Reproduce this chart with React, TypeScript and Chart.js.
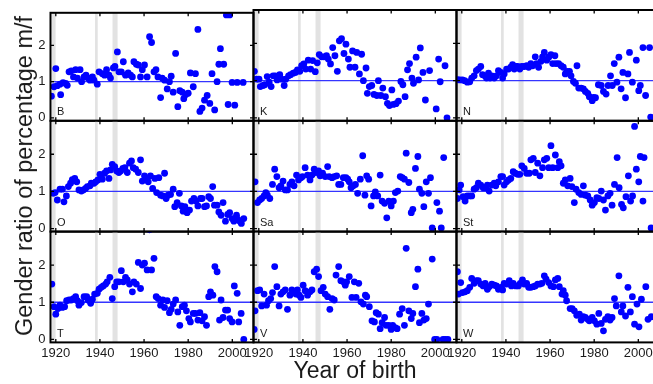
import React, { useEffect, useRef } from "react";
import { Chart, registerables } from "chart.js";

Chart.register(...registerables);

// ---------- axes / reference values ----------
const X_MIN = 1917.6;
const X_MAX = 2009.6;
const Y_MIN = -0.08;
const Y_MAX = 2.9;
const X_TICKS = [1920, 1940, 1960, 1980, 2000];
const Y_TICKS = [0, 1, 2];
const REFERENCE_RATIO = 1;
const BAND_START = [1918.3, 1937.8, 1945.7];
const BAND_END = [1919.9, 1939.0, 1948.0];
const PANEL_NAMES = ["B", "K", "N", "O", "Sa", "St", "T", "V", "W"];
const X_TITLE = "Year of birth";
const Y_TITLE = "Gender ratio of percentage m/f";

// ---------- data (year of birth, gender ratio) ----------
const B_YEARS = [
  1918.0, 1919.2, 1920.0, 1920.7, 1921.9, 1922.2, 1923.3, 1924.5, 1925.2, 1926.0,
  1927.0, 1928.0, 1929.0, 1929.8, 1931.0, 1931.7, 1932.8, 1933.7, 1934.6, 1935.5,
  1936.6, 1937.3, 1938.8, 1939.6, 1941.1, 1942.1, 1943.0, 1944.1, 1944.8, 1946.1,
  1946.8, 1947.9, 1948.6, 1949.7, 1950.6, 1951.6, 1952.8, 1953.9, 1954.7, 1955.4,
  1956.5, 1957.4, 1958.4, 1959.2, 1960.2, 1961.4, 1962.5, 1963.4, 1964.5, 1965.4,
  1966.3, 1967.5, 1968.2, 1969.3, 1970.5, 1971.5, 1972.3, 1973.2, 1974.3, 1975.3,
  1976.2, 1977.3, 1978.0, 1978.8, 1980.0, 1981.0, 1982.3, 1983.3, 1984.4, 1985.3,
  1986.3, 1987.4, 1988.6, 1989.8, 1990.8, 1992.0, 1993.1, 1993.9, 1994.6, 1996.1,
  1997.3, 1998.1, 1998.8, 1999.9, 2001.1, 2002.2, 2004.9,
];
const B_VALUES = [
  0.60, 0.86, 1.36, 0.89, 0.93, 0.64, 0.97, 0.95, 0.90, 1.27,
  1.30, 1.13, 1.33, 1.10, 1.33, 1.00, 1.13, 1.18, 1.10, 1.04,
  1.13, 1.04, 0.93, 1.27, 1.22, 1.18, 1.33, 1.18, 1.10, 1.38,
  1.42, 1.82, 1.27, 1.27, 1.55, 1.18, 1.24, 1.18, 1.13, 1.55,
  1.48, 1.46, 1.13, 1.33, 1.46, 1.13, 2.24, 2.08, 1.27, 1.33,
  1.13, 0.56, 1.10, 1.04, 0.80, 1.00, 1.15, 0.71, 1.78, 0.31,
  0.75, 0.71, 0.53, 0.64, 0.68, 1.24, 0.86, 1.22, 2.44, 0.18,
  0.27, 0.49, 0.62, 0.40, 1.22, 0.22, 1.00, 1.48, 1.91, 1.48,
  2.84, 0.37, 2.84, 0.98, 0.35, 0.98, 0.98,
];

const K_YEARS = [
  1918.0, 1918.9, 1920.1, 1920.7, 1921.9, 1922.7, 1923.8, 1924.7, 1925.6, 1926.5,
  1927.5, 1928.3, 1929.5, 1930.3, 1931.5, 1932.2, 1933.5, 1934.4, 1935.6, 1936.6,
  1937.5, 1938.6, 1939.4, 1940.4, 1941.3, 1942.4, 1943.5, 1944.4, 1945.6, 1946.5,
  1947.4, 1948.5, 1949.5, 1950.7, 1951.5, 1952.5, 1953.5, 1954.5, 1955.6, 1956.5,
  1957.5, 1958.6, 1959.5, 1960.6, 1961.3, 1962.5, 1963.6, 1964.4, 1965.6, 1966.6,
  1967.4, 1968.6, 1969.2, 1970.1, 1971.2, 1972.2, 1973.5, 1974.2, 1975.3, 1976.2,
  1977.4, 1978.3, 1979.2, 1980.3, 1981.0, 1982.2, 1983.3, 1984.4, 1985.3, 1986.3,
  1987.4, 1988.3, 1989.4, 1990.1, 1991.3, 1992.4, 1993.2, 1994.4, 1995.5, 1997.4,
  2000.4, 2001.5, 2002.2, 2004.4, 2005.3,
];
const K_VALUES = [
  1.25, 1.04, 1.04, 0.84, 0.87, 0.89, 1.11, 0.96, 0.84, 1.13,
  1.13, 1.02, 1.16, 1.04, 0.87, 1.04, 1.13, 1.16, 1.20, 1.22,
  1.29, 1.25, 1.40, 1.45, 1.31, 1.55, 1.31, 1.54, 1.24, 1.48,
  1.70, 1.64, 1.64, 1.67, 1.58, 1.45, 1.89, 1.67, 1.25, 2.07,
  2.13, 1.73, 1.98, 1.58, 1.36, 1.80, 1.36, 1.76, 1.18, 1.71,
  1.00, 1.34, 0.66, 0.84, 0.87, 0.63, 0.60, 1.00, 0.60, 0.80,
  0.57, 0.39, 0.33, 0.75, 0.36, 0.38, 0.45, 0.98, 0.89, 0.57,
  1.29, 1.46, 1.07, 0.93, 1.63, 1.02, 1.88, 1.22, 0.48, 1.27,
  0.24, 1.58, 0.97, 1.40, 0.00,
];

const N_YEARS = [
  1918.0, 1919.1, 1920.3, 1921.3, 1922.5, 1923.6, 1924.5, 1925.6, 1926.6, 1927.5,
  1928.6, 1929.4, 1930.4, 1931.2, 1932.1, 1932.8, 1933.6, 1934.7, 1935.7, 1936.6,
  1937.7, 1938.5, 1939.2, 1940.3, 1941.2, 1942.2, 1943.0, 1943.8, 1944.5, 1945.3,
  1946.3, 1947.2, 1948.3, 1949.4, 1950.3, 1951.3, 1952.1, 1953.3, 1953.9, 1954.8,
  1955.9, 1956.6, 1957.4, 1958.5, 1959.4, 1960.4, 1961.2, 1962.2, 1962.7, 1963.9,
  1965.0, 1966.0, 1966.9, 1967.7, 1968.8, 1969.5, 1970.6, 1971.5, 1972.2, 1973.0,
  1974.1, 1975.1, 1976.0, 1977.1, 1977.8, 1979.1, 1979.7, 1980.6, 1981.9, 1983.2,
  1984.2, 1985.4, 1986.3, 1987.4, 1988.2, 1989.1, 1990.3, 1991.2, 1992.2, 1993.0,
  1994.2, 1995.3, 1996.0, 1997.3, 1999.1, 2000.2, 2000.9, 2002.1, 2003.3, 2005.1,
  2005.6,
];
const N_VALUES = [
  1.03, 1.02, 1.02, 1.00, 0.96, 0.97, 1.07, 1.13, 1.27, 1.31,
  1.38, 1.16, 1.13, 1.07, 1.20, 1.07, 1.13, 1.07, 1.13, 1.27,
  1.22, 1.07, 1.18, 1.31, 1.31, 1.36, 1.43, 1.31, 1.38, 1.38,
  1.31, 1.38, 1.38, 1.40, 1.36, 1.46, 1.40, 1.64, 1.46, 1.36,
  1.52, 1.64, 1.76, 1.55, 1.63, 1.70, 1.46, 1.67, 1.46, 1.46,
  1.40, 1.36, 1.18, 1.25, 1.25, 1.13, 0.98, 0.93, 1.40, 0.80,
  0.80, 0.78, 0.71, 0.66, 0.57, 0.46, 0.55, 0.54, 0.89, 0.87,
  0.71, 0.64, 0.87, 1.13, 0.87, 1.46, 0.96, 1.63, 0.78, 1.22,
  0.54, 1.18, 1.76, 0.96, 1.55, 0.73, 0.87, 1.89, 0.60, 1.89,
  0.02,
];

const O_YEARS = [
  1918.8, 1919.7, 1920.7, 1921.9, 1923.0, 1923.7, 1924.8, 1925.7, 1926.7, 1927.5,
  1928.6, 1929.5, 1930.5, 1931.6, 1932.5, 1933.5, 1934.3, 1935.5, 1936.1, 1937.3,
  1938.1, 1939.1, 1940.0, 1941.1, 1942.1, 1943.0, 1944.1, 1944.8, 1945.6, 1946.7,
  1947.6, 1948.6, 1949.4, 1950.4, 1951.3, 1952.4, 1953.4, 1954.3, 1955.1, 1956.2,
  1957.4, 1958.4, 1959.2, 1960.2, 1961.1, 1961.9, 1962.9, 1963.9, 1964.9, 1965.7,
  1966.7, 1967.5, 1968.5, 1969.3, 1970.0, 1970.9, 1972.0, 1973.2, 1973.9, 1975.0,
  1976.0, 1976.9, 1977.7, 1978.5, 1979.5, 1980.6, 1981.5, 1982.6, 1983.6, 1984.4,
  1985.6, 1986.3, 1987.4, 1988.3, 1989.3, 1990.1, 1991.1, 1991.9, 1993.1, 1993.9,
  1994.9, 1995.8, 1996.9, 1997.9, 1998.8, 1999.9, 2000.7, 2001.9, 2002.5, 2003.4,
  2004.1, 2005.2,
];
const O_VALUES = [
  0.95, 0.97, 0.77, 1.06, 1.06, 0.72, 0.88, 1.13, 1.22, 1.32,
  1.35, 1.26, 1.04, 1.01, 1.04, 1.08, 1.13, 1.15, 1.22, 1.22,
  1.26, 1.31, 1.46, 1.33, 1.49, 1.55, 1.35, 1.58, 1.73, 1.67,
  1.55, 1.51, 1.55, 1.62, 1.64, 1.51, 1.76, 1.82, 1.64, 1.60,
  1.51, 1.85, 1.28, 1.42, 1.33, 1.26, 1.42, 1.08, 1.35, 0.97,
  1.37, 0.90, 0.88, 1.49, 0.81, 0.90, 0.92, 1.06, 0.59, 0.70,
  0.95, 0.61, 0.47, 0.59, 0.43, 0.50, 0.74, 0.81, 0.74, 0.61,
  0.81, 0.81, 0.59, 0.61, 0.86, 0.81, 1.13, 0.63, 0.63, 0.45,
  0.36, 0.70, 0.20, 0.38, 0.43, 0.27, 0.20, 0.36, 0.25, 0.20,
  0.14, 0.27,
];

const SA_YEARS = [
  1918.3, 1919.4, 1920.4, 1921.3, 1922.4, 1923.2, 1923.9, 1925.0, 1926.2, 1927.2,
  1928.2, 1929.2, 1930.0, 1931.0, 1932.0, 1933.0, 1934.1, 1935.0, 1936.0, 1937.1,
  1938.0, 1939.1, 1939.8, 1941.0, 1942.1, 1943.2, 1944.1, 1945.1, 1945.9, 1947.1,
  1947.8, 1948.9, 1950.1, 1951.2, 1951.9, 1953.2, 1954.2, 1955.3, 1956.2, 1957.2,
  1958.3, 1959.5, 1960.3, 1961.0, 1961.8, 1962.8, 1963.8, 1964.8, 1966.0, 1967.1,
  1968.1, 1968.9, 1969.8, 1970.9, 1972.0, 1972.8, 1973.9, 1975.0, 1975.9, 1977.0,
  1978.0, 1978.9, 1980.0, 1981.0, 1981.9, 1983.0, 1984.1, 1985.0, 1986.0, 1986.8,
  1988.0, 1989.1, 1989.8, 1991.0, 1992.1, 1992.8, 1993.9, 1994.8, 1995.9, 1996.9,
  1997.8, 1998.6, 2000.7, 2001.9, 2002.7, 2003.8,
];
const SA_VALUES = [
  1.26, 0.70, 0.77, 0.81, 0.88, 0.97, 0.90, 0.81, 1.19, 1.60,
  1.40, 1.10, 1.15, 1.28, 1.04, 1.04, 1.19, 1.26, 1.15, 1.44,
  1.31, 1.37, 1.40, 1.64, 1.44, 1.31, 1.44, 1.60, 1.51, 1.55,
  1.42, 1.49, 1.40, 1.67, 1.40, 1.37, 1.40, 1.42, 1.19, 1.19,
  1.37, 1.37, 1.33, 1.26, 1.10, 1.15, 1.19, 0.95, 1.33, 1.96,
  0.90, 1.42, 1.33, 0.61, 0.88, 0.99, 0.88, 1.44, 0.74, 0.68,
  0.29, 0.74, 0.61, 0.74, 0.97, 1.01, 1.40, 1.37, 1.33, 2.03,
  1.24, 0.43, 0.52, 1.62, 1.94, 1.06, 0.95, 0.59, 1.26, 0.95,
  1.37, 0.02, 0.70, 0.47, 0.02, 1.91,
];

const ST_YEARS = [
  1918.0, 1918.8, 1919.5, 1920.6, 1921.5, 1922.5, 1923.6, 1924.5, 1925.6, 1926.6,
  1927.5, 1928.6, 1929.7, 1930.6, 1931.6, 1932.4, 1933.6, 1934.7, 1935.4, 1936.6,
  1937.7, 1938.5, 1939.2, 1940.3, 1941.2, 1942.2, 1943.3, 1944.2, 1945.3, 1946.3,
  1947.2, 1948.3, 1949.4, 1950.6, 1951.3, 1952.4, 1953.3, 1954.4, 1955.4, 1956.6,
  1957.4, 1958.5, 1959.4, 1960.4, 1961.2, 1962.4, 1963.5, 1964.2, 1965.0, 1966.0,
  1966.9, 1968.0, 1969.1, 1969.9, 1971.0, 1971.8, 1973.0, 1974.1, 1975.1, 1976.0,
  1977.1, 1978.2, 1979.1, 1980.1, 1981.2, 1982.1, 1983.2, 1984.2, 1985.1, 1986.2,
  1987.2, 1988.1, 1989.2, 1990.4, 1991.3, 1992.4, 1993.2, 1994.4, 1995.5, 1996.5,
  1997.4, 1998.3, 1999.1, 2000.2, 2000.9, 2002.1, 2002.6, 2005.8,
];
const ST_VALUES = [
  0.81, 1.04, 1.17, 0.86, 0.74, 0.88, 0.88, 0.88, 1.06, 1.10,
  1.22, 1.17, 1.10, 1.10, 1.17, 1.01, 1.17, 1.22, 1.15, 1.26,
  1.40, 1.40, 1.17, 1.26, 1.31, 1.35, 1.53, 1.49, 1.46, 1.46,
  1.69, 1.62, 1.49, 1.49, 1.85, 1.89, 1.51, 1.76, 1.42, 1.64,
  1.85, 1.89, 1.64, 2.23, 1.64, 1.98, 1.64, 1.80, 1.69, 1.22,
  1.31, 1.15, 1.35, 1.13, 0.70, 1.06, 0.97, 0.92, 1.15, 0.90,
  0.88, 0.77, 0.63, 0.70, 0.83, 0.81, 1.01, 0.77, 0.50, 0.88,
  0.95, 0.63, 1.19, 1.91, 1.10, 0.65, 0.56, 0.86, 1.42, 0.74,
  0.88, 2.75, 1.60, 1.26, 1.94, 0.74, 1.91, 0.02,
];

const T_YEARS = [
  1918.2, 1919.2, 1920.0, 1921.0, 1921.9, 1923.0, 1924.0, 1924.9, 1926.0, 1927.0,
  1928.0, 1929.0, 1929.8, 1930.5, 1931.6, 1932.8, 1934.0, 1934.6, 1935.8, 1936.6,
  1937.6, 1938.8, 1939.6, 1940.6, 1941.5, 1942.6, 1943.3, 1944.5, 1945.6, 1946.7,
  1947.6, 1948.6, 1949.7, 1950.6, 1951.6, 1952.4, 1953.4, 1954.7, 1955.4, 1956.5,
  1957.4, 1958.4, 1959.2, 1960.2, 1961.4, 1962.5, 1963.4, 1964.5, 1965.5, 1966.4,
  1967.5, 1968.5, 1969.3, 1970.5, 1971.5, 1972.3, 1973.2, 1974.3, 1975.3, 1976.2,
  1977.3, 1978.3, 1979.2, 1980.3, 1981.0, 1982.3, 1983.3, 1984.4, 1985.3, 1986.3,
  1987.4, 1988.3, 1989.3, 1990.1, 1991.2, 1992.1, 1993.1, 1994.2, 1994.9, 1995.8,
  1996.9, 1997.9, 1998.8, 1999.9, 2000.9, 2002.2, 2002.9, 2004.0, 2005.2,
];
const T_VALUES = [
  1.49, 0.88, 0.68, 0.83, 0.92, 0.86, 0.88, 1.04, 1.06, 1.06,
  1.10, 1.15, 1.04, 0.92, 0.99, 1.15, 1.15, 1.06, 0.97, 1.08,
  1.22, 1.24, 1.35, 1.40, 1.44, 1.49, 1.55, 1.67, 1.10, 1.42,
  1.55, 1.55, 1.85, 1.55, 1.67, 1.60, 1.49, 1.28, 1.55, 1.49,
  2.07, 1.37, 2.00, 2.05, 1.87, 2.95, 1.87, 2.18, 1.15, 1.10,
  0.92, 1.06, 0.86, 1.04, 0.72, 0.81, 0.95, 1.06, 0.74, 0.38,
  0.88, 0.92, 0.77, 0.56, 0.47, 0.70, 0.70, 0.52, 0.72, 0.50,
  0.61, 0.38, 1.15, 1.28, 1.19, 1.96, 1.82, 0.52, 1.06, 0.59,
  0.79, 0.79, 0.56, 0.47, 1.44, 1.24, 0.47, 0.70, 0.00,
];

const V_YEARS = [
  1917.9, 1918.3, 1919.4, 1920.4, 1921.3, 1922.4, 1923.5, 1924.4, 1925.4, 1926.2,
  1927.2, 1928.2, 1929.2, 1930.0, 1931.0, 1932.0, 1933.0, 1934.1, 1935.0, 1936.0,
  1936.8, 1937.5, 1938.3, 1939.1, 1940.1, 1941.0, 1942.1, 1943.2, 1944.1, 1945.1,
  1946.2, 1947.1, 1948.2, 1949.2, 1950.1, 1951.2, 1952.2, 1953.2, 1954.2, 1955.0,
  1956.2, 1957.2, 1958.3, 1959.2, 1959.8, 1961.0, 1962.2, 1963.3, 1964.1, 1965.3,
  1966.3, 1967.4, 1968.3, 1968.9, 1970.1, 1971.3, 1972.4, 1973.2, 1974.2, 1975.0,
  1975.9, 1977.0, 1977.7, 1978.9, 1980.0, 1980.7, 1981.8, 1982.7, 1983.8, 1985.0,
  1986.0, 1986.8, 1988.0, 1989.1, 1989.8, 1991.0, 1992.1, 1992.8, 1993.9, 1994.8,
  1995.9, 1996.9, 1998.6, 1999.7, 2000.7, 2003.5, 2004.5, 2005.7,
];
const V_VALUES = [
  0.27, 0.77, 1.31, 1.33, 0.90, 1.22, 0.92, 1.04, 1.10, 1.26,
  1.96, 1.42, 0.90, 1.22, 1.28, 1.33, 0.81, 1.19, 1.33, 1.28,
  1.22, 1.33, 1.19, 1.13, 1.46, 1.31, 1.19, 1.28, 1.33, 1.82,
  1.89, 1.69, 1.31, 1.40, 1.22, 1.15, 0.81, 1.10, 1.06, 1.73,
  1.96, 1.58, 1.55, 1.46, 1.55, 1.69, 1.13, 1.55, 1.13, 1.51,
  1.01, 0.95, 1.19, 1.15, 0.88, 0.50, 0.47, 0.72, 0.68, 0.29,
  0.45, 0.59, 0.38, 0.38, 0.27, 0.38, 0.32, 0.29, 0.68, 0.83,
  0.38, 2.45, 0.77, 0.56, 0.70, 1.42, 1.89, 0.45, 0.70, 0.52,
  0.56, 0.95, 2.16, 0.00, 0.00, 0.00, 0.00, 0.00,
];

const W_YEARS = [
  1918.0, 1918.5, 1919.5, 1920.3, 1921.5, 1922.5, 1923.6, 1924.5, 1925.6, 1926.6,
  1927.5, 1928.6, 1929.7, 1930.6, 1931.6, 1932.4, 1933.6, 1934.7, 1935.7, 1936.6,
  1937.7, 1938.5, 1939.2, 1940.3, 1941.5, 1942.5, 1943.3, 1944.5, 1945.6, 1946.5,
  1947.5, 1948.3, 1949.4, 1950.3, 1951.3, 1952.4, 1953.3, 1954.4, 1955.4, 1956.3,
  1957.4, 1958.2, 1959.4, 1960.4, 1961.5, 1962.4, 1963.5, 1964.2, 1965.4, 1966.0,
  1966.9, 1967.5, 1969.1, 1970.0, 1971.0, 1972.1, 1973.3, 1974.1, 1975.1, 1976.0,
  1977.1, 1977.8, 1979.1, 1980.1, 1981.2, 1982.1, 1983.2, 1984.2, 1985.1, 1986.2,
  1987.2, 1988.1, 1989.2, 1990.0, 1991.2, 1992.3, 1993.0, 1994.2, 1995.3, 1996.4,
  1997.3, 1998.3, 1999.4, 2000.3, 2001.4, 2003.4, 2004.4, 2005.9,
];
const W_VALUES = [
  1.82, 1.22, 1.53, 1.26, 1.28, 1.31, 1.40, 1.64, 1.51, 1.58,
  1.58, 1.49, 1.44, 1.51, 1.35, 1.42, 1.49, 1.46, 1.44, 1.35,
  1.40, 1.33, 1.51, 1.49, 1.58, 1.44, 1.51, 1.44, 1.44, 1.51,
  1.60, 1.49, 1.51, 1.40, 1.40, 1.42, 1.44, 1.49, 1.49, 1.51,
  1.71, 1.62, 1.53, 1.44, 1.42, 1.60, 1.64, 1.42, 1.22, 1.31,
  1.19, 1.04, 0.83, 0.83, 0.77, 0.65, 0.68, 0.52, 0.61, 0.59,
  0.54, 0.50, 0.59, 0.50, 0.41, 0.70, 0.43, 0.23, 0.54, 0.61,
  0.52, 0.59, 1.10, 0.90, 1.71, 0.74, 0.90, 0.63, 1.40, 0.74,
  1.15, 0.41, 0.95, 0.34, 1.08, 1.42, 0.54, 0.61,
];

const PANEL_YEARS = [B_YEARS, K_YEARS, N_YEARS, O_YEARS, SA_YEARS, ST_YEARS, T_YEARS, V_YEARS, W_YEARS];
const PANEL_VALUES = [B_VALUES, K_VALUES, N_VALUES, O_VALUES, SA_VALUES, ST_VALUES, T_VALUES, V_VALUES, W_VALUES];

// ---------- layout ----------
const PAGE_W = 653;
const PAGE_H = 384;
const CANVAS_W = 680;
const CANVAS_H = 384;
const COL_LEFT = [50.5, 253.5, 456.5];
const COL_W = 203;
const ROW_TOP = [10, 120.8, 231.6];
const ROW_H = 110.8;
const Y_AXIS_W = 40;
const X_AXIS_H = 30;
const FONT = '"Liberation Sans", Arial, Helvetica, sans-serif';
const TEXT_COLOR = "#1a1a1a";
const POINT_COLOR = "#0000ff";
const LINE_COLOR = "#3535ff";
const BAND_COLOR = "#e2e2e2";

const panelDeco = {
  id: "panelDeco",
  beforeDatasetsDraw(chart: any) {
    const { ctx, chartArea: a } = chart;
    const x = chart.scales.x;
    ctx.save();
    ctx.fillStyle = BAND_COLOR;
    for (let i = 0; i < BAND_START.length; i++) {
      const x0 = x.getPixelForValue(BAND_START[i]);
      const x1 = x.getPixelForValue(BAND_END[i]);
      ctx.fillRect(x0, a.top, x1 - x0, a.bottom - a.top);
    }
    ctx.restore();
  },
  afterDatasetsDraw(chart: any, _args: any, opts: any) {
    const { ctx, chartArea: a } = chart;
    const x = chart.scales.x;
    const y = chart.scales.y;
    ctx.save();
    ctx.strokeStyle = "#000";
    ctx.lineWidth = 1.3;
    ctx.beginPath();
    X_TICKS.forEach((v) => {
      const px = x.getPixelForValue(v);
      ctx.moveTo(px, a.bottom);
      ctx.lineTo(px, a.bottom - 3.5);
      ctx.moveTo(px, a.top);
      ctx.lineTo(px, a.top + 3.5);
    });
    Y_TICKS.forEach((v) => {
      const py = y.getPixelForValue(v);
      ctx.moveTo(a.left, py);
      ctx.lineTo(a.left + 3.5, py);
      ctx.moveTo(a.right, py);
      ctx.lineTo(a.right - 3.5, py);
    });
    ctx.stroke();
    ctx.lineWidth = 2;
    ctx.strokeRect(a.left, a.top, a.right - a.left, a.bottom - a.top);
    ctx.fillStyle = TEXT_COLOR;
    ctx.font = `11px ${FONT}`;
    ctx.textAlign = "left";
    ctx.textBaseline = "alphabetic";
    ctx.fillText(opts.label, a.left + 6.5, a.bottom - 5.5);
    ctx.restore();
  },
};

function Panel({ index }: { index: number }) {
  const ref = useRef<HTMLCanvasElement | null>(null);
  useEffect(() => {
    if (!ref.current) return;
    const row = Math.floor(index / 3);
    const col = index % 3;
    const left = COL_LEFT[col];
    const top = ROW_TOP[row];
    const right = left + COL_W;
    const bottom = top + ROW_H;
    const showX = row === 2;
    const showY = col === 0;
    const years = PANEL_YEARS[index];
    const values = PANEL_VALUES[index];
    const n = Math.min(years.length, values.length);
    const pts = [] as { x: number; y: number }[];
    for (let i = 0; i < n; i++) pts.push({ x: years[i], y: values[i] });

    const chart = new Chart(ref.current, {
      type: "scatter",
      data: {
        datasets: [
          {
            type: "line",
            data: [
              { x: X_MIN, y: REFERENCE_RATIO },
              { x: X_MAX, y: REFERENCE_RATIO },
            ],
            borderColor: LINE_COLOR,
            borderWidth: 1.3,
            pointRadius: 0,
            fill: false,
            order: 2,
          } as any,
          {
            type: "scatter",
            data: pts,
            backgroundColor: POINT_COLOR,
            borderWidth: 0,
            pointRadius: 3.4,
            pointHoverRadius: 3.4,
            clip: 0,
            order: 1,
          } as any,
        ],
      },
      options: {
        responsive: false,
        animation: false,
        events: [],
        layout: {
          padding: {
            left: showY ? left - Y_AXIS_W : left,
            top: top,
            right: CANVAS_W - right,
            bottom: showX ? CANVAS_H - bottom - X_AXIS_H : CANVAS_H - bottom,
          },
        },
        plugins: {
          legend: { display: false },
          tooltip: { enabled: false },
          title: { display: false },
          panelDeco: { label: PANEL_NAMES[index] },
        } as any,
        scales: {
          x: {
            type: "linear",
            min: X_MIN,
            max: X_MAX,
            display: showX,
            grid: { display: false, drawTicks: false },
            border: { display: false },
            ticks: {
              color: TEXT_COLOR,
              font: { family: FONT, size: 13 },
              padding: 3,
              autoSkip: false,
              maxRotation: 0,
              minRotation: 0,
              callback: (v: any) => String(v),
            },
            afterBuildTicks: (s: any) => {
              s.ticks = X_TICKS.map((v) => ({ value: v }));
            },
            afterFit: (s: any) => {
              if (showX) s.height = X_AXIS_H;
            },
          },
          y: {
            type: "linear",
            min: Y_MIN,
            max: Y_MAX,
            display: showY,
            grid: { display: false, drawTicks: false },
            border: { display: false },
            ticks: {
              color: TEXT_COLOR,
              font: { family: FONT, size: 13 },
              padding: 5,
              callback: (v: any) => String(v),
            },
            afterBuildTicks: (s: any) => {
              s.ticks = Y_TICKS.map((v) => ({ value: v }));
            },
            afterFit: (s: any) => {
              if (showY) s.width = Y_AXIS_W;
            },
          },
        },
      } as any,
      plugins: [panelDeco],
    });
    return () => chart.destroy();
  }, [index]);

  return (
    <canvas
      ref={ref}
      width={CANVAS_W}
      height={CANVAS_H}
      style={{ position: "absolute", left: 0, top: 0, width: CANVAS_W, height: CANVAS_H }}
    />
  );
}

export default function App() {
  return (
    <div
      style={{
        position: "fixed",
        left: 0,
        top: 0,
        width: PAGE_W,
        height: PAGE_H,
        overflow: "hidden",
        background: "#ffffff",
      }}
    >
      {PANEL_NAMES.map((_, i) => (
        <Panel key={i} index={i} />
      ))}
      <div
        style={{
          position: "absolute",
          left: 24,
          top: 176,
          transform: "translate(-50%, -50%) rotate(-90deg)",
          fontFamily: FONT,
          fontSize: 23.5,
          lineHeight: "24px",
          whiteSpace: "nowrap",
          color: TEXT_COLOR,
        }}
      >
        {Y_TITLE}
      </div>
      <div
        style={{
          position: "absolute",
          left: 355,
          top: 370,
          transform: "translate(-50%, -50%)",
          fontFamily: FONT,
          fontSize: 23,
          lineHeight: "23px",
          whiteSpace: "nowrap",
          color: TEXT_COLOR,
        }}
      >
        {X_TITLE}
      </div>
    </div>
  );
}
